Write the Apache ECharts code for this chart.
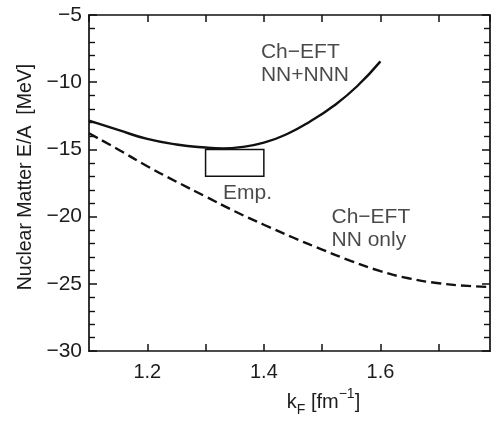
<!DOCTYPE html>
<html>
<head>
<meta charset="utf-8">
<script src="https://cdn.jsdelivr.net/npm/echarts@6/dist/echarts.min.js"></script>
<style>
  html, body { margin: 0; padding: 0; background: #fff; }
  #chart { width: 491px; height: 422px; }
</style>
</head>
<body>
<div id="chart"></div>
<script>
// NN+NNN (solid)
var kSolid = [1.10, 1.15, 1.20, 1.25, 1.30, 1.33, 1.36, 1.40, 1.44, 1.48, 1.52, 1.56, 1.60];
var eSolid = [-12.86, -13.55, -14.22, -14.63, -14.86, -14.92, -14.83, -14.5, -13.85, -12.9, -11.75, -10.3, -8.45];
// NN only (dashed)
var kNN = [1.10, 1.15, 1.20, 1.25, 1.30, 1.35, 1.40, 1.45, 1.50, 1.55, 1.60, 1.65, 1.70, 1.75, 1.80];
var eNN = [-13.8, -15.0, -16.25, -17.4, -18.5, -19.6, -20.6, -21.55, -22.45, -23.3, -24.05, -24.6, -24.95, -25.15, -25.25];
// empirical box
var boxK = [1.3, 1.4];
var boxE = [-15, -17];
// annotations
var noteK = [1.395, 1.33, 1.516];
var noteE = [-6.93, -17.39, -19.17];
var noteText = ['Ch\u2212EFT\nNN+NNN', 'Emp.', 'Ch\u2212EFT\nNN only'];
var xLabels = ['1.2', '1.4', '1.6'];

var font = '"Liberation Sans", Arial, Helvetica, sans-serif';
var ink = '#111';
var txt = '#1c1c1c';

function pairs(xs, ys) {
    return xs.map(function(x, i) { return [x, ys[i]]; });
}

var chart = echarts.init(document.getElementById('chart'));

var lineAxis = { lineStyle: { color: ink, width: 1.7 } };
var tickIn = { show: true, inside: true, length: 7, lineStyle: { color: ink, width: 1.5 } };
var minorIn = { show: true, splitNumber: 5, length: 6, lineStyle: { color: ink, width: 1.4 } };

var option = {
    animation: false,
    backgroundColor: '#fff',
    grid: { left: 89, right: 1, top: 15, bottom: 57, containLabel: false },
    xAxis: [
        {
            type: 'value', position: 'bottom', min: 1.1, max: 1.788, interval: 0.1,
            axisLine: lineAxis, axisTick: tickIn, splitLine: { show: false },
            axisLabel: {
                fontSize: 20, fontFamily: font, color: txt, margin: 11,
                showMinLabel: false, showMaxLabel: false,
                formatter: function(v) {
                    var s = v.toFixed(1);
                    return xLabels.indexOf(s) >= 0 ? s : '';
                }
            },
            name: '{n|k}{sub|F}{n| [fm}{sup|\u22121}{n|]}',
            nameLocation: 'middle', nameGap: 33,
            nameTextStyle: {
                padding: [0, 0, 0, 68],
                rich: {
                    n: { fontSize: 20, fontFamily: font, color: txt, lineHeight: 30, verticalAlign: 'middle' },
                    sub: { fontSize: 14, fontFamily: font, color: txt, lineHeight: 14, verticalAlign: 'bottom' },
                    sup: { fontSize: 14, fontFamily: font, color: txt, lineHeight: 14, verticalAlign: 'top' }
                }
            }
        },
        {
            type: 'value', position: 'top', min: 1.1, max: 1.788, interval: 0.1,
            axisLine: lineAxis, axisTick: tickIn, splitLine: { show: false },
            axisLabel: { show: false }
        }
    ],
    yAxis: [
        {
            type: 'value', position: 'left', min: -30, max: -5, interval: 5,
            axisLine: lineAxis,
            axisTick: { show: true, inside: true, length: 8, lineStyle: { color: ink, width: 1.5 } },
            minorTick: minorIn,
            splitLine: { show: false },
            axisLabel: {
                fontSize: 21, fontFamily: font, color: txt, margin: 7,
                formatter: function(v) { return String(v).replace('-', '\u2212'); }
            },
            name: 'Nuclear Matter E/A  [MeV]',
            nameLocation: 'middle', nameGap: 51, nameRotate: 90,
            nameTextStyle: { fontSize: 19.5, fontFamily: font, color: txt, padding: [0, 0, 0, 12] }
        },
        {
            type: 'value', position: 'right', min: -30, max: -5, interval: 5,
            axisLine: lineAxis,
            axisTick: { show: true, inside: true, length: 8, lineStyle: { color: ink, width: 1.5 } },
            minorTick: minorIn,
            splitLine: { show: false },
            axisLabel: { show: false }
        }
    ],
    series: [
        {
            type: 'line',
            data: pairs(kSolid, eSolid),
            smooth: true,
            showSymbol: false,
            lineStyle: { color: ink, width: 2.4 },
            markArea: {
                silent: true,
                itemStyle: { color: 'rgba(0,0,0,0)', borderColor: ink, borderWidth: 1.5 },
                data: [[{ coord: [boxK[0], boxE[0]] }, { coord: [boxK[1], boxE[1]] }]]
            }
        },
        {
            type: 'line',
            data: pairs(kNN, eNN),
            smooth: true,
            showSymbol: false,
            lineStyle: { color: ink, width: 2.4, type: [10, 5] }
        },
        {
            type: 'scatter',
            data: pairs(noteK, noteE),
            symbolSize: 0,
            silent: true,
            label: {
                show: true,
                position: [0, 0],
                align: 'left',
                verticalAlign: 'top',
                fontSize: 21,
                lineHeight: 23,
                fontFamily: font,
                color: txt,
                formatter: function(p) { return noteText[p.dataIndex]; }
            }
        }
    ]
};

chart.setOption(option);
</script>
</body>
</html>
